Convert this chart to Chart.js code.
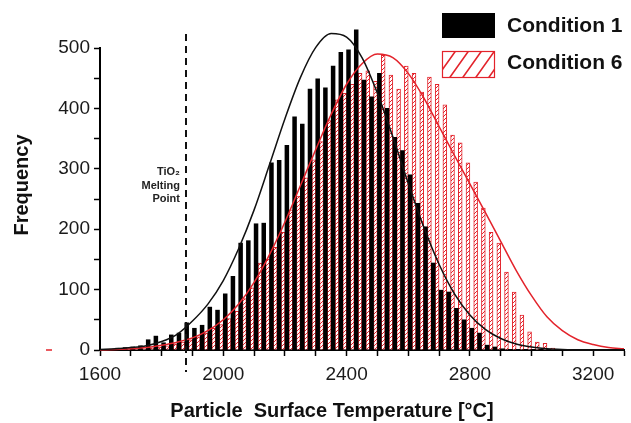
<!DOCTYPE html>
<html>
<head>
<meta charset="utf-8">
<script src="https://cdn.jsdelivr.net/npm/chart.js@4.4.1/dist/chart.umd.min.js"></script>
<style>
  html, body { margin: 0; padding: 0; background: #fff; overflow: hidden; }
  canvas { display: block; }
</style>
</head>
<body>
<canvas id="hist" width="631" height="423"></canvas>
<script>
// bin centres, 25 °C wide bins
const bin_temps = [1612.5, 1637.5, 1662.5, 1687.5, 1712.5, 1737.5, 1762.5, 1787.5, 1812.5, 1837.5,
  1862.5, 1887.5, 1912.5, 1937.5, 1962.5, 1987.5, 2012.5, 2037.5, 2062.5, 2087.5,
  2112.5, 2137.5, 2162.5, 2187.5, 2212.5, 2237.5, 2262.5, 2287.5, 2312.5, 2337.5,
  2362.5, 2387.5, 2412.5, 2437.5, 2462.5, 2487.5, 2512.5, 2537.5, 2562.5, 2587.5,
  2612.5, 2637.5, 2662.5, 2687.5, 2712.5, 2737.5, 2762.5, 2787.5, 2812.5, 2837.5,
  2862.5, 2887.5, 2912.5, 2937.5, 2962.5, 2987.5, 3012.5, 3037.5, 3062.5, 3087.5,
  3112.5, 3137.5, 3162.5, 3187.5, 3212.5, 3237.5, 3262.5, 3287.5];

const cond1_counts = [1, 1, 3, 4, 5, 7, 17, 23, 12, 25,
  28, 45, 36, 41, 71, 66, 93, 122, 177, 181,
  209, 210, 310, 314, 339, 386, 374, 432, 449, 434,
  470, 493, 497, 530, 447, 419, 458, 400, 352, 330,
  290, 243, 204, 144, 99, 96, 69, 50, 36, 28,
  8, 5, 2, 1, 0, 0, 0, 0, 0, 0,
  0, 0, 0, 0, 0, 0, 0, 0];

const cond6_counts = [0, 0, 0, 1, 1, 2, 3, 5, 7, 10,
  13, 17, 22, 28, 36, 42, 52, 64, 85, 103,
  144, 150, 170, 195, 232, 255, 285, 315, 345, 380,
  414, 425, 440, 458, 462, 445, 488, 455, 432, 470,
  458, 427, 452, 440, 406, 356, 343, 310, 278, 235,
  195, 177, 129, 96, 58, 30, 13, 11, 3, 1,
  0, 0, 0, 0, 0, 0, 0, 0];

// fitted distribution curves, read every 50 °C
const curve_temps = [1600, 1650, 1700, 1750, 1800, 1850, 1900, 1950, 2000, 2050,
  2100, 2150, 2200, 2250, 2300, 2350, 2400, 2450, 2500, 2550,
  2600, 2650, 2700, 2750, 2800, 2850, 2900, 2950, 3000, 3050,
  3100, 3150, 3200, 3250, 3300];
const cond1_fit = [1, 2, 4, 7, 14, 26, 48, 76, 115, 168,
  232, 307, 383, 451, 501, 524, 518, 484, 425, 353,
  276, 204, 142, 93, 58, 34, 19, 10, 5, 2,
  1, 0, 0, 0, 0];
const cond6_fit = [0, 1, 2, 4, 8, 13, 20, 32, 50, 76,
  112, 158, 212, 272, 332, 390, 440, 474, 490, 484,
  458, 418, 370, 322, 275, 228, 180, 132, 90, 55,
  32, 17, 9, 4, 2];

const x_ticks = [1600, 2000, 2400, 2800, 3200];
const y_ticks = [0, 100, 200, 300, 400, 500];
const melt_temp = 1880;
const series_names = ["Condition 1", "Condition 6"];

const RED = "#e3232b";
const FONT = "'Liberation Sans', Arial, sans-serif";

function make_hatch() {
  const c = document.createElement("canvas");
  c.width = 4; c.height = 4;
  const g = c.getContext("2d");
  g.fillStyle = "#fff";
  g.fillRect(0, 0, 4, 4);
  g.strokeStyle = RED;
  g.lineWidth = 1;
  g.beginPath();
  g.moveTo(0, 4); g.lineTo(4, 0);
  g.moveTo(-1, 1); g.lineTo(1, -1);
  g.moveTo(3, 5); g.lineTo(5, 3);
  g.stroke();
  return g.createPattern(c, "repeat");
}

function pairs(xs, ys) {
  return xs.map((x, i) => ({ x: x, y: ys[i] }));
}

const extras = {
  id: "extras",
  afterDatasetsDraw(chart) {
    const ctx = chart.ctx;
    const xs = chart.scales.x;
    const ys = chart.scales.y;
    const area = chart.chartArea;
    const mx = Math.round(xs.getPixelForValue(melt_temp));

    ctx.save();
    // melting point line
    ctx.strokeStyle = "#111";
    ctx.lineWidth = 2;
    ctx.setLineDash([7, 5]);
    ctx.beginPath();
    ctx.moveTo(mx, area.top - 14);
    ctx.lineTo(mx, area.bottom + 22);
    ctx.stroke();
    ctx.setLineDash([]);

    ctx.fillStyle = "#222";
    ctx.font = "bold 11px " + FONT;
    ctx.textAlign = "right";
    ctx.textBaseline = "middle";
    ctx.fillText("TiO₂", mx - 6, 172);
    ctx.fillText("Melting", mx - 6, 186);
    ctx.fillText("Point", mx - 6, 199);

    // small red dash left of the zero label (as in the source figure)
    ctx.strokeStyle = RED;
    ctx.lineWidth = 1.5;
    const y0 = ys.getPixelForValue(0);
    ctx.beginPath();
    ctx.moveTo(46, y0);
    ctx.lineTo(52, y0);
    ctx.stroke();

    // legend
    const lx = area.right - 182;
    ctx.fillStyle = "#000";
    ctx.fillRect(lx, 13, 53, 25);

    ctx.fillStyle = "#fff";
    ctx.fillRect(lx, 51, 53, 27);
    ctx.save();
    ctx.beginPath();
    ctx.rect(lx, 51, 53, 27);
    ctx.clip();
    ctx.strokeStyle = RED;
    ctx.lineWidth = 1.6;
    ctx.beginPath();
    for (let k = -2; k < 6; k++) {
      const bx = lx + 6 + k * 13;
      ctx.moveTo(bx, 80);
      ctx.lineTo(bx + 22, 49);
    }
    ctx.stroke();
    ctx.restore();
    ctx.strokeStyle = RED;
    ctx.lineWidth = 1.2;
    ctx.strokeRect(lx + 0.5, 51.5, 52, 26);

    ctx.fillStyle = "#111";
    ctx.font = "bold 21px " + FONT;
    ctx.textAlign = "left";
    ctx.fillText(series_names[0], lx + 65, 26);
    ctx.fillText(series_names[1], lx + 65, 63);

    // axis titles
    ctx.font = "bold 20px " + FONT;
    ctx.textAlign = "center";
    ctx.fillText("Particle  Surface Temperature [°C]", 332, 411);
    ctx.translate(22, 185);
    ctx.rotate(-Math.PI / 2);
    ctx.fillText("Frequency", 0, 0);
    ctx.restore();
  }
};

const hatch = make_hatch();

new Chart(document.getElementById("hist"), {
  data: {
    datasets: [
      {
        type: "line",
        data: pairs(curve_temps, cond1_fit),
        borderColor: "#111",
        borderWidth: 1.5,
        pointRadius: 0,
        cubicInterpolationMode: "monotone",
        clip: false,
        order: 0
      },
      {
        type: "line",
        data: pairs(curve_temps, cond6_fit),
        borderColor: RED,
        borderWidth: 1.5,
        pointRadius: 0,
        cubicInterpolationMode: "monotone",
        clip: false,
        order: 0
      },
      {
        type: "bar",
        label: series_names[0],
        data: pairs(bin_temps, cond1_counts),
        backgroundColor: "#000",
        borderWidth: 0,
        categoryPercentage: 1,
        barPercentage: 1,
        clip: false,
        order: 1
      },
      {
        type: "bar",
        label: series_names[1],
        data: pairs(bin_temps, cond6_counts),
        backgroundColor: hatch,
        borderColor: RED,
        borderWidth: 1,
        categoryPercentage: 1,
        barPercentage: 1,
        clip: false,
        order: 1
      }
    ]
  },
  options: {
    responsive: false,
    animation: false,
    maintainAspectRatio: false,
    layout: { padding: { top: 48, right: 2, left: 0, bottom: 0 } },
    plugins: {
      legend: { display: false },
      tooltip: { enabled: false }
    },
    scales: {
      x: {
        type: "linear",
        min: 1600,
        max: 3300,
        offset: false,
        afterFit: (s) => { s.height = 73; },
        border: { display: true, color: "#000", width: 2 },
        grid: { drawOnChartArea: false, offset: false, color: "#000", tickLength: 6, tickWidth: 1.5 },
        ticks: {
          stepSize: 100,
          autoSkip: false,
          maxRotation: 0,
          padding: 7,
          color: "#1a1a1a",
          font: { family: FONT, size: 19 },
          callback: (v) => x_ticks.includes(v) ? String(v) : ""
        }
      },
      y: {
        min: 0,
        max: 500,
        afterFit: (s) => { s.width = 100; },
        border: { display: true, color: "#000", width: 2 },
        grid: { drawOnChartArea: false, color: "#000", tickLength: 6, tickWidth: 1.5 },
        ticks: {
          stepSize: 50,
          padding: 4,
          color: "#1a1a1a",
          font: { family: FONT, size: 19 },
          callback: (v) => y_ticks.includes(v) ? String(v) : ""
        }
      }
    }
  },
  plugins: [extras]
});
</script>
</body>
</html>
